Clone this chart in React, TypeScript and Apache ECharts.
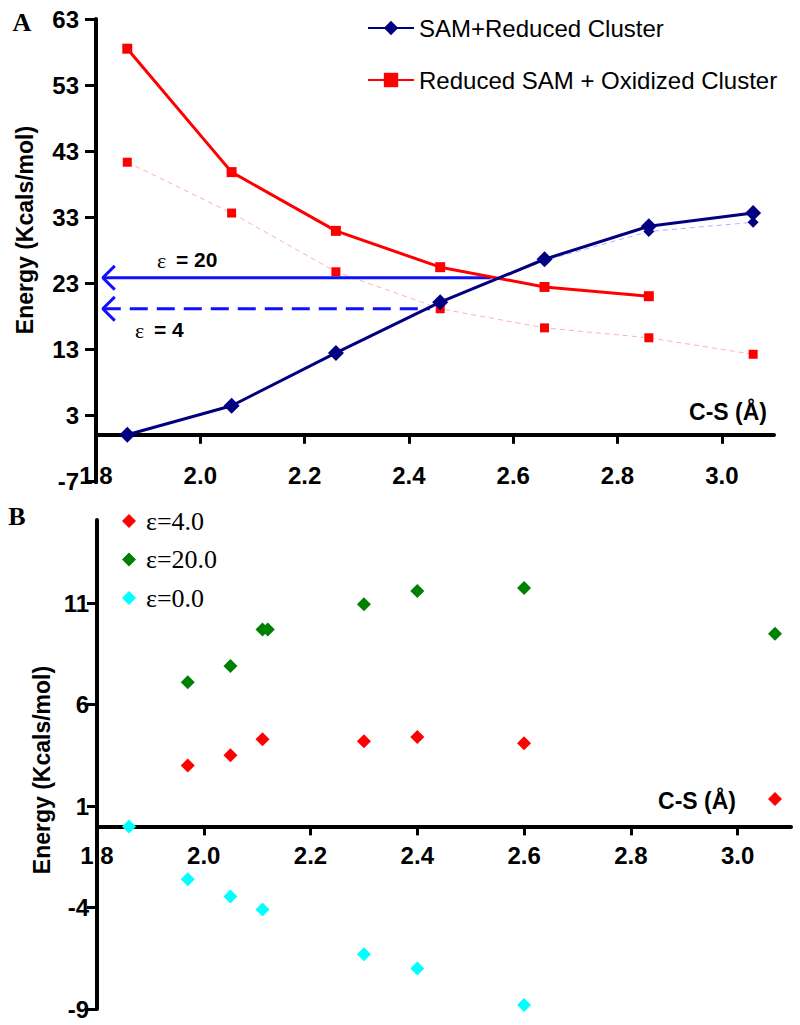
import React, { useEffect, useRef } from "react";
import * as echarts from "echarts";

// ---------- Panel A data ----------
const xA = [1.86, 2.06, 2.26, 2.46, 2.66, 2.86, 3.06];
const samReduced = [0.0, 4.4, 12.4, 20.1, 26.6, 31.6, 33.6];
const samReducedEps4 = [0.0, 4.3, 12.3, 20.0, 26.4, 30.8, 32.2];
const reducedSamOx = [58.5, 39.8, 30.9, 25.4, 22.4, 21.0];
const reducedSamOxEps4 = [41.3, 33.6, 24.7, 19.1, 16.2, 14.7, 12.2];
const arrowEps20 = [[1.813, 23.8], [2.557, 23.8]];
const arrowEps4 = [[1.813, 19.1], [2.44, 19.1]];
const headEps20 = [[1.836, 25.6], [1.813, 23.8], [1.836, 22.0]];
const headEps4 = [[1.836, 20.9], [1.813, 19.1], [1.836, 17.3]];
const xTickLabels = [1.8, 2.0, 2.2, 2.4, 2.6, 2.8, 3.0];
const yTicksA = [-7, 3, 13, 23, 33, 43, 53, 63];

// ---------- Panel B data ----------
const xB4 = [1.97, 2.05, 2.11, 2.3, 2.4, 2.6, 3.07];
const eps4 = [3.0, 3.5, 4.3, 4.2, 4.4, 4.1, 1.35];
const xB20 = [1.97, 2.05, 2.11, 2.12, 2.3, 2.4, 2.6, 3.07];
const eps20 = [7.1, 7.9, 9.7, 9.7, 10.95, 11.6, 11.75, 9.5];
const xB0 = [1.86, 1.97, 2.05, 2.11, 2.3, 2.4, 2.6];
const eps0 = [0.0, -2.6, -3.45, -4.1, -6.3, -7.0, -8.8];
const yTicksB = [-9, -4, 1, 6, 11];

const pairs = (xs: number[], ys: number[]) => ys.map((y, i) => [xs[i], y]);

const SANS = "Liberation Sans, Arial, sans-serif";
const SERIF = "Liberation Serif, Times New Roman, serif";

// grid geometry
const GA = { left: 96, right: 26, top: 19, bottom: 544, yMin: -7, yMax: 63 };
const GB = { left: 97, right: 9, top: 520, bottom: 16, yMin: -9, yMax: 15.1 };
const zeroOffset = (g: typeof GA) => {
  const h = 1025 - g.top - g.bottom;
  return -(-g.yMin / (g.yMax - g.yMin)) * h;
};

export default function App() {
  const ref = useRef<HTMLDivElement>(null);
  useEffect(() => {
    if (!ref.current) return;
    const chart = echarts.init(ref.current, null, { renderer: "svg" });
    const labelStyle = { fontSize: 24, fontWeight: "bold" as const, fontFamily: SANS, color: "#000" };
    const xAxisCommon = (grid: number, margin: number, offset: number) => ({
      gridIndex: grid,
      type: "value",
      min: 1.8,
      max: 3.1,
      offset,
      splitLine: { show: false },
      axisLine: { onZero: false, lineStyle: { color: "#000", width: 4 } },
      axisTick: { length: 9, lineStyle: { width: 3, color: "#000" }, customValues: xTickLabels },
      axisLabel: { ...labelStyle, margin, customValues: xTickLabels, formatter: (v: number) => v.toFixed(1) },
    });
    const option: any = {
      animation: false,
      backgroundColor: "#fff",
      grid: [
        { left: GA.left, right: GA.right, top: GA.top, bottom: GA.bottom, outerBoundsMode: "none", containLabel: false },
        { left: GB.left, right: GB.right, top: GB.top, bottom: GB.bottom, outerBoundsMode: "none", containLabel: false },
      ],
      xAxis: [xAxisCommon(0, 29, zeroOffset(GA)), xAxisCommon(1, 17, zeroOffset(GB))],
      yAxis: [
        {
          gridIndex: 0,
          type: "value",
          min: GA.yMin,
          max: GA.yMax,
          splitLine: { show: false },
          axisLine: { show: true, onZero: false, lineStyle: { color: "#000", width: 4 } },
          axisTick: { show: true, length: 11, lineStyle: { width: 3, color: "#000" }, customValues: yTicksA },
          axisLabel: { ...labelStyle, margin: 17, customValues: yTicksA },
        },
        {
          gridIndex: 1,
          type: "value",
          min: GB.yMin,
          max: GB.yMax,
          splitLine: { show: false },
          axisLine: { show: true, onZero: false, lineStyle: { color: "#000", width: 4 } },
          axisTick: { show: true, length: 10, lineStyle: { width: 3, color: "#000" }, customValues: yTicksB },
          axisLabel: { ...labelStyle, margin: 8, customValues: yTicksB },
        },
      ],
      legend: [
        {
          data: ["SAM+Reduced Cluster", "Reduced SAM + Oxidized Cluster"],
          orient: "vertical",
          left: 362,
          top: 11,
          itemWidth: 46,
          itemHeight: 18,
          itemGap: 28,
          selectedMode: false,
          textStyle: { fontSize: 24, fontFamily: SANS, color: "#000" },
        },
        {
          data: ["ε=4.0", "ε=20.0", "ε=0.0"],
          orient: "vertical",
          left: 117,
          top: 503,
          itemWidth: 14,
          itemHeight: 14,
          itemGap: 12.5,
          selectedMode: false,
          textStyle: { fontSize: 26, fontFamily: SERIF, color: "#000", padding: [0, 0, 0, 5] },
        },
      ],
      series: [
        {
          name: "Reduced SAM + Oxidized Cluster (ε=4)",
          type: "line",
          xAxisIndex: 0,
          yAxisIndex: 0,
          data: pairs(xA, reducedSamOxEps4),
          symbol: "rect",
          symbolSize: 9,
          itemStyle: { color: "#ff0000" },
          lineStyle: { color: "#ffb0b0", width: 1, type: [5, 4] },
          z: 2,
        },
        {
          name: "SAM+Reduced Cluster (ε=4)",
          type: "line",
          xAxisIndex: 0,
          yAxisIndex: 0,
          data: pairs(xA, samReducedEps4),
          symbol: "diamond",
          symbolSize: 11,
          itemStyle: { color: "#000080" },
          lineStyle: { color: "#b0b0ff", width: 1, type: [5, 4] },
          z: 2,
        },
        {
          name: "arrow20",
          type: "line",
          xAxisIndex: 0,
          yAxisIndex: 0,
          data: arrowEps20,
          symbol: "none",
          lineStyle: { color: "#1010ff", width: 3 },
          z: 3,
        },
        {
          name: "arrow20head",
          type: "line",
          xAxisIndex: 0,
          yAxisIndex: 0,
          data: headEps20,
          symbol: "none",
          lineStyle: { color: "#1010ff", width: 3 },
          z: 3,
        },
        {
          name: "arrow4",
          type: "line",
          xAxisIndex: 0,
          yAxisIndex: 0,
          data: arrowEps4,
          symbol: "none",
          lineStyle: { color: "#1010ff", width: 3, type: [18, 9] },
          z: 3,
        },
        {
          name: "arrow4head",
          type: "line",
          xAxisIndex: 0,
          yAxisIndex: 0,
          data: headEps4,
          symbol: "none",
          lineStyle: { color: "#1010ff", width: 3 },
          z: 3,
        },
        {
          name: "Reduced SAM + Oxidized Cluster",
          type: "line",
          xAxisIndex: 0,
          yAxisIndex: 0,
          data: pairs(xA, reducedSamOx),
          symbol: "rect",
          symbolSize: 10,
          itemStyle: { color: "#ff0000" },
          lineStyle: { color: "#ff0000", width: 3 },
          z: 4,
        },
        {
          name: "SAM+Reduced Cluster",
          type: "line",
          xAxisIndex: 0,
          yAxisIndex: 0,
          data: pairs(xA, samReduced),
          symbol: "diamond",
          symbolSize: 16,
          itemStyle: { color: "#000080" },
          lineStyle: { color: "#000080", width: 3 },
          z: 5,
        },
        {
          name: "ε=4.0",
          type: "scatter",
          xAxisIndex: 1,
          yAxisIndex: 1,
          data: pairs(xB4, eps4),
          symbol: "diamond",
          symbolSize: 14,
          itemStyle: { color: "#ff0000", opacity: 1 },
        },
        {
          name: "ε=20.0",
          type: "scatter",
          xAxisIndex: 1,
          yAxisIndex: 1,
          data: pairs(xB20, eps20),
          symbol: "diamond",
          symbolSize: 14,
          itemStyle: { color: "#008000", opacity: 1 },
        },
        {
          name: "ε=0.0",
          type: "scatter",
          xAxisIndex: 1,
          yAxisIndex: 1,
          data: pairs(xB0, eps0),
          symbol: "diamond",
          symbolSize: 14,
          itemStyle: { color: "#00ffff", opacity: 1 },
        },
      ],
      graphic: [
        { type: "text", x: 22, y: 22, style: { text: "A", font: `bold 26px ${SERIF}`, fill: "#000", align: "center", verticalAlign: "middle" } },
        { type: "text", x: 17, y: 516, style: { text: "B", font: `bold 26px ${SERIF}`, fill: "#000", align: "center", verticalAlign: "middle" } },
        { type: "text", x: 25, y: 230, rotation: Math.PI / 2, style: { text: "Energy (Kcals/mol)", font: `bold 23px ${SANS}`, fill: "#000", align: "center", verticalAlign: "middle" } },
        { type: "text", x: 42, y: 770, rotation: Math.PI / 2, style: { text: "Energy (Kcals/mol)", font: `bold 23px ${SANS}`, fill: "#000", align: "center", verticalAlign: "middle" } },
        { type: "text", x: 728, y: 412, style: { text: "C-S (Å)", font: `bold 23px ${SANS}`, fill: "#000", align: "center", verticalAlign: "middle" } },
        { type: "text", x: 697, y: 801, style: { text: "C-S (Å)", font: `bold 23px ${SANS}`, fill: "#000", align: "center", verticalAlign: "middle" } },
        { type: "text", x: 157, y: 260, style: { text: "ε", font: `22px ${SERIF}`, fill: "#000", align: "left", verticalAlign: "middle" } },
        { type: "text", x: 176, y: 259, style: { text: "= 20", font: `bold 21px ${SANS}`, fill: "#000", align: "left", verticalAlign: "middle" } },
        { type: "text", x: 135, y: 330, style: { text: "ε", font: `22px ${SERIF}`, fill: "#000", align: "left", verticalAlign: "middle" } },
        { type: "text", x: 154, y: 329, style: { text: "= 4", font: `bold 21px ${SANS}`, fill: "#000", align: "left", verticalAlign: "middle" } },
      ],
    };
    chart.setOption(option);
    return () => chart.dispose();
  }, []);
  return <div ref={ref} style={{ position: "fixed", left: 0, top: 0, width: 800, height: 1025, background: "#fff" }} />;
}
